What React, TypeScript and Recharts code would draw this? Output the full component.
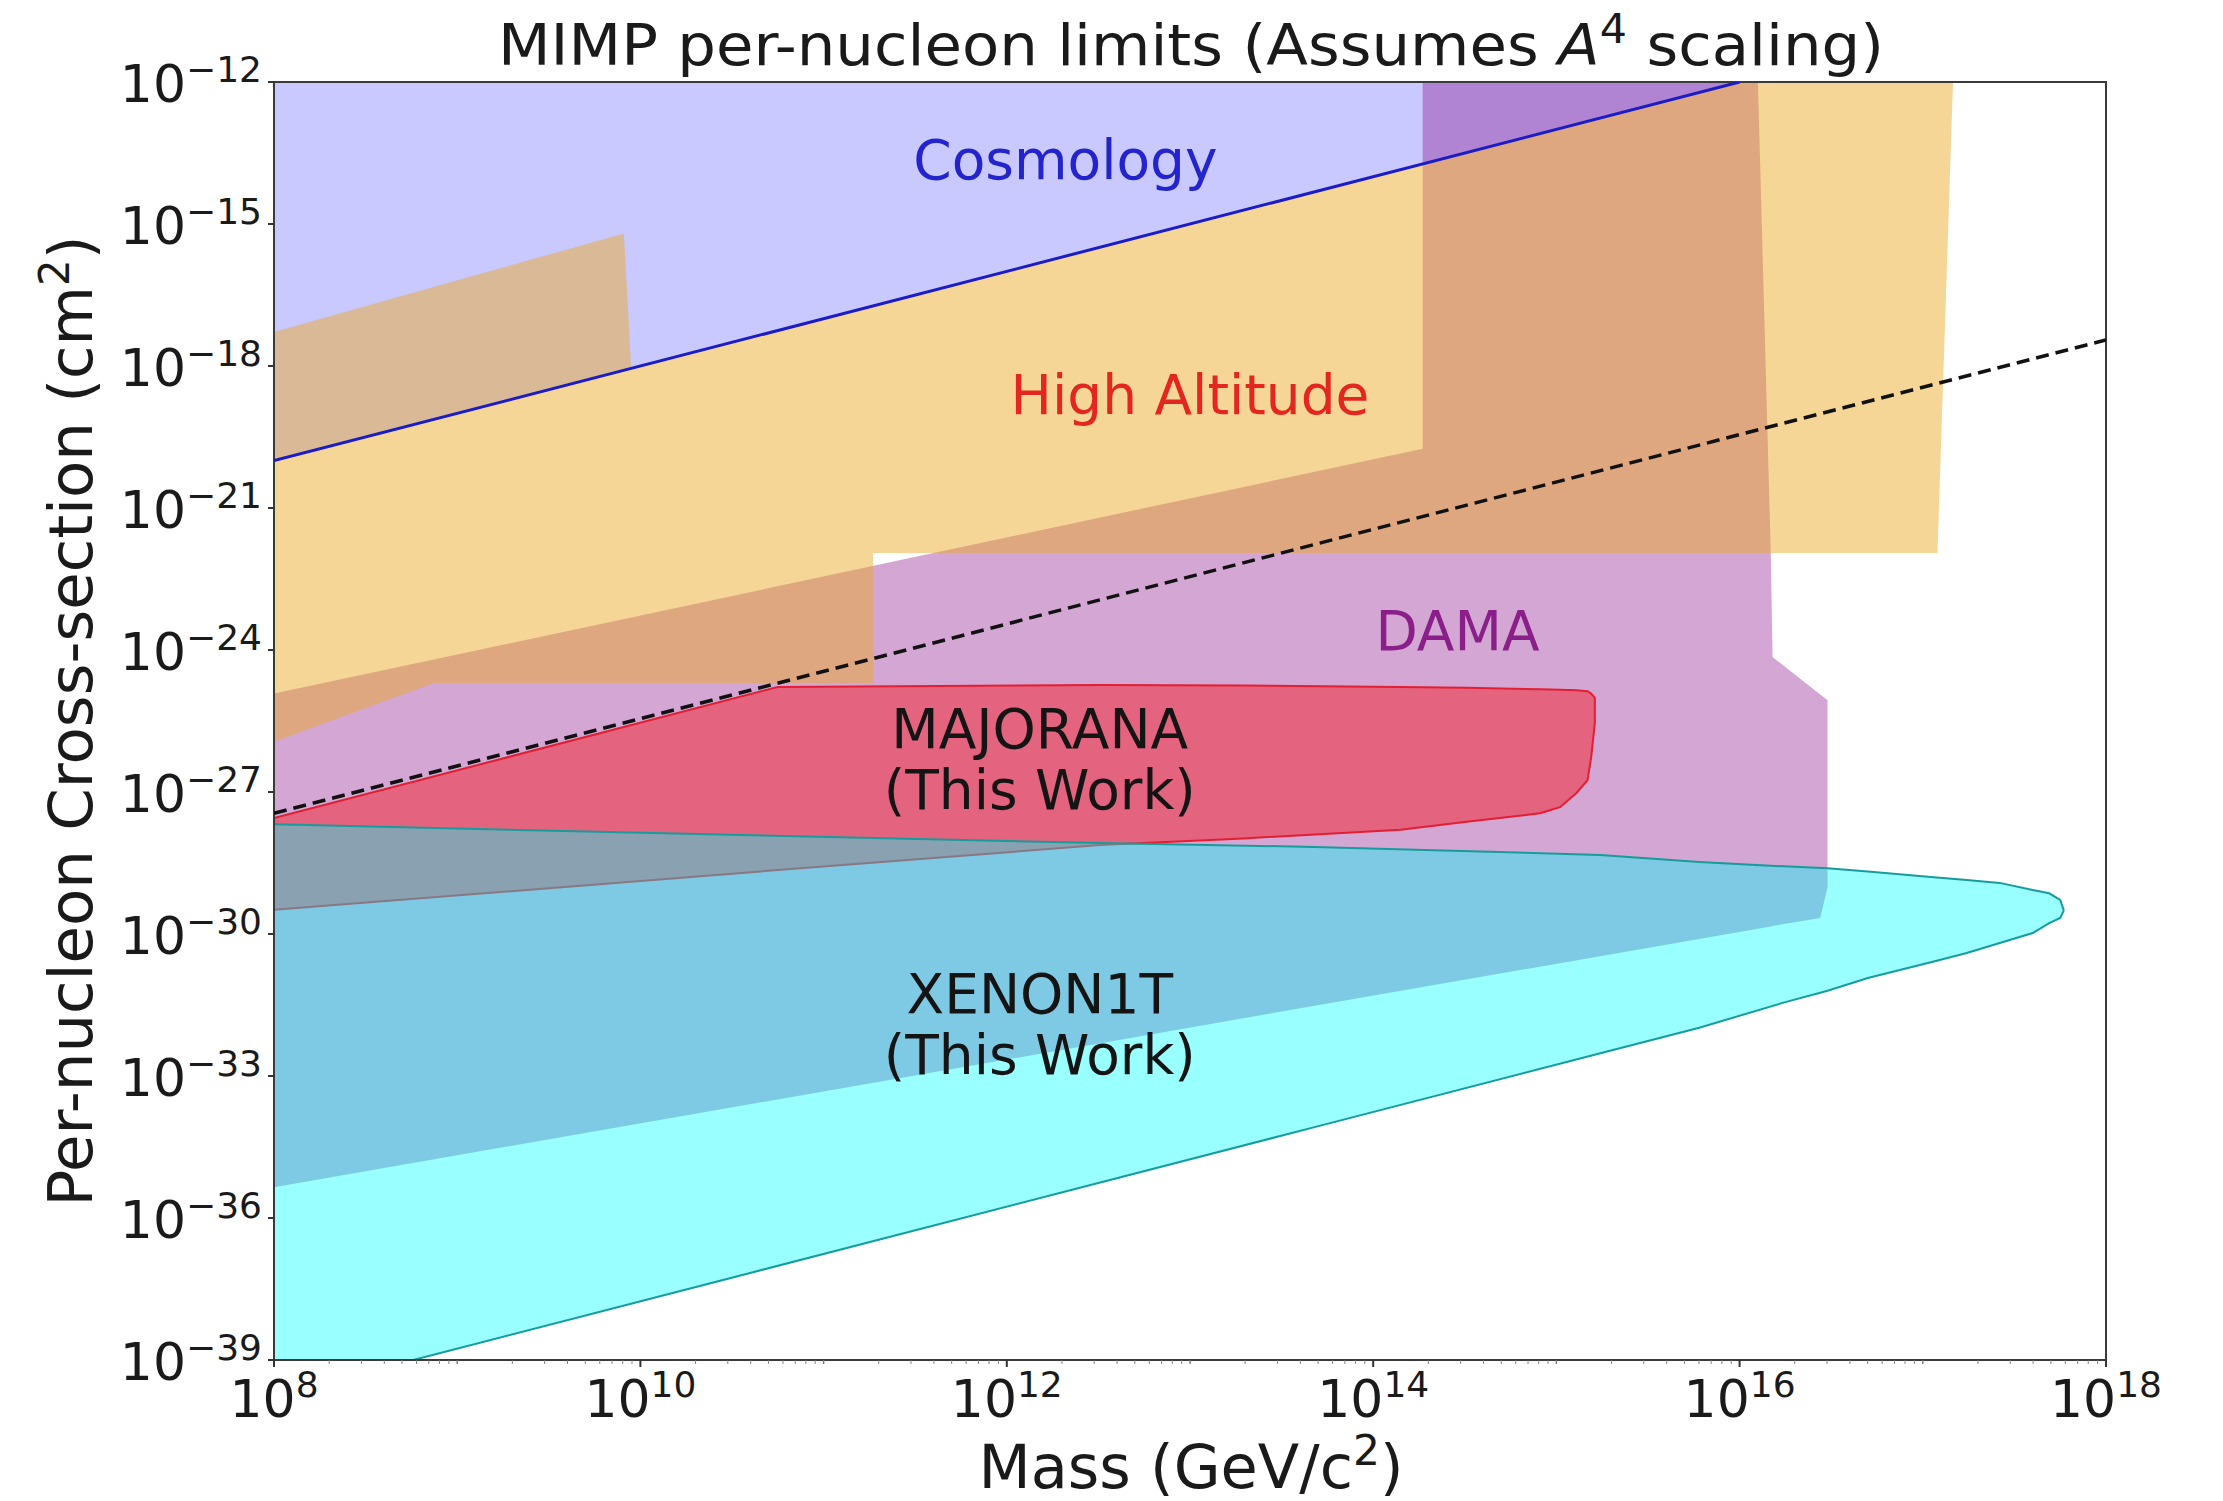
import React from 'react';
import { ComposedChart, Area, Line, XAxis, YAxis, ReferenceArea, ReferenceDot } from 'recharts';

const FONT = '"DejaVu Sans", "Noto Sans", sans-serif';

// All values are log10(mass / GeV c^-2) and log10(cross-section / cm^2)
// Region rows: [log10 M, lower log10 sigma, upper log10 sigma]
const cosmology: number[][] = [
  [8, -20, -12],
  [16, -12, -12],
];

const dama: number[][] = [
  [8, -35.35, -24.92],
  [14.27, -31.12, -19.75],
  [14.27, -31.12, -12],
  [16.1, -29.89, -12],
  [16.17, -29.84, -21.92],
  [16.18, -29.83, -24.15],
  [16.44, -29.66, -24.94],
  [16.48, -29.01, -25.06],
];

const highAltitude: number[][] = [
  [8, -25.94, -17.28],
  [8.87, -24.7, -16.33],
  [9.91, -24.7, -15.2],
  [9.95, -24.7, -18.05],
  [11.27, -24.7, -16.73],
  [11.27, -21.95, -16.73],
  [16.0, -21.95, -12],
  [17.08, -21.95, -12],
  [17.165, -12, -12],
];

const majorana: number[][] = [
  [8, -29.49, -27.55],
  [10.75, -28.65, -24.78],
  [12.51, -28.12, -24.74],
  [13.29, -27.98, -24.75],
  [14.15, -27.8, -24.78],
  [14.51, -27.63, -24.8],
  [14.91, -27.45, -24.83],
  [15.02, -27.32, -24.84],
  [15.11, -27.02, -24.85],
  [15.17, -26.75, -24.87],
  [15.19, -26.26, -24.92],
  [15.21, -25.54, -25.01],
  [15.21, -25.01, -25.01],
];

const xenon1t: number[][] = [
  [8, -39, -27.68],
  [8.76, -39, -27.75],
  [12.51, -35.25, -28.08],
  [13.68, -34.08, -28.16],
  [15.24, -32.52, -28.33],
  [15.78, -31.98, -28.48],
  [16.24, -31.45, -28.57],
  [16.48, -31.2, -28.61],
  [16.7, -30.93, -28.68],
  [17.06, -30.58, -28.8],
  [17.24, -30.4, -28.86],
  [17.42, -30.19, -28.92],
  [17.6, -29.98, -29.07],
  [17.69, -29.77, -29.14],
  [17.75, -29.66, -29.28],
  [17.77, -29.5, -29.5],
];

// Line rows: [log10 M, log10 sigma]
const cosmologyBoundary: number[][] = [
  [8, -20],
  [16, -12],
];
const dashedReference: number[][] = [
  [8, -27.45],
  [18, -17.45],
];

// Tick labels
const xLabelDecades = [8, 10, 12, 14, 16, 18];
const xAllDecades = [8, 9, 10, 11, 12, 13, 14, 15, 16, 17];
const minorMultipliers = [2, 3, 4, 5, 6, 7, 8, 9];
const yLabelDecades = [-12, -15, -18, -21, -24, -27, -30, -33, -36, -39];

// Text annotations: [log10 M, log10 sigma] of first baseline center
const annotations = [
  { x: 12.32, y: -14.05, lines: ['Cosmology'], color: '#2424cc' },
  { x: 13.0, y: -19.01, lines: ['High Altitude'], color: '#e3261f' },
  { x: 14.46, y: -24.0, lines: ['DAMA'], color: '#8a1f8a' },
  { x: 12.18, y: -26.07, lines: ['MAJORANA', '(This Work)'], color: '#141414' },
  { x: 12.18, y: -31.67, lines: ['XENON1T', '(This Work)'], color: '#141414' },
];

const toRange = (rows: number[][]) => rows.map(([x, lo, hi]) => ({ x, range: [lo, hi] }));
const toPoints = (rows: number[][]) => rows.map(([x, y]) => ({ x, y }));

const xTicks: number[] = [18];
xAllDecades.forEach((d) => {
  xTicks.push(d);
  minorMultipliers.forEach((m) => xTicks.push(d + Math.log10(m)));
});
xTicks.sort((a, b) => a - b);

const XTick = (props: any) => {
  const { x, y, payload } = props;
  const v = payload.value;
  const major = xLabelDecades.includes(v);
  const isDecade = Number.isInteger(v);
  return (
    <g>
      <line
        x1={x}
        x2={x}
        y1={y}
        y2={y + (major ? 7 : 4)}
        stroke={major ? '#333' : '#777'}
        strokeWidth={major ? 2 : isDecade ? 1.4 : 0.9}
      />
      {major && (
        <text x={x} y={y + 57} textAnchor="middle" fontFamily={FONT} fontSize={52} fill="#1a1a1a">
          10
          <tspan dy={-20} fontSize={36}>
            {v}
          </tspan>
        </text>
      )}
    </g>
  );
};

const YTick = (props: any) => {
  const { x, y, payload } = props;
  const v = payload.value;
  return (
    <g>
      <line x1={x} x2={x - 6} y1={y} y2={y} stroke="#333" strokeWidth={2} />
      <text x={x - 12} y={y + 20} textAnchor="end" fontFamily={FONT} fontSize={52} fill="#1a1a1a">
        10
        <tspan dy={-20} fontSize={36}>
          {`\u2212${Math.abs(v)}`}
        </tspan>
      </text>
    </g>
  );
};

const AnnoLabel = (props: any) => {
  const { viewBox, lines, color } = props;
  const cx = viewBox.x + (viewBox.width || 0) / 2;
  const cy = viewBox.y + (viewBox.height || 0) / 2;
  return (
    <text x={cx} y={cy} textAnchor="middle" fontFamily={FONT} fontSize={55} fill={color}>
      {lines.map((l: string, i: number) => (
        <tspan key={i} x={cx} dy={i === 0 ? 0 : 61}>
          {l}
        </tspan>
      ))}
    </text>
  );
};

export default function App() {
  return (
    <div style={{ position: 'absolute', left: 0, top: 0, width: 2223, height: 1501, background: '#fff' }}>
      <ComposedChart width={2223} height={1501} margin={{ top: 82, right: 117, bottom: 0, left: 0 }}>
        <XAxis
          type="number"
          dataKey="x"
          domain={[8, 18]}
          ticks={xTicks}
          interval={0}
          tick={<XTick />}
          tickLine={false}
          axisLine={false}
          tickSize={0}
          tickMargin={0}
          height={141}
          allowDataOverflow
        />
        <YAxis
          type="number"
          domain={[-39, -12]}
          ticks={yLabelDecades}
          interval={0}
          tick={<YTick />}
          tickLine={false}
          axisLine={false}
          tickSize={0}
          tickMargin={0}
          width={274}
          allowDataOverflow
        />
        <Area
          data={toRange(cosmology)}
          dataKey="range"
          type="linear"
          stroke="none"
          fill="#0000ff"
          fillOpacity={0.21}
          dot={false}
          activeDot={false}
          isAnimationActive={false}
        />
        <Area
          data={toRange(dama)}
          dataKey="range"
          type="linear"
          stroke="none"
          fill="#800080"
          fillOpacity={0.35}
          dot={false}
          activeDot={false}
          isAnimationActive={false}
        />
        <Area
          data={toRange(highAltitude)}
          dataKey="range"
          type="linear"
          stroke="none"
          fill="#ecaa24"
          fillOpacity={0.48}
          dot={false}
          activeDot={false}
          isAnimationActive={false}
        />
        <Area
          data={toRange(majorana)}
          dataKey="range"
          type="linear"
          stroke="#e41e32"
          strokeWidth={2}
          fill="#ff0000"
          fillOpacity={0.4}
          dot={false}
          activeDot={false}
          isAnimationActive={false}
        />
        <Area
          data={toRange(xenon1t)}
          dataKey="range"
          type="linear"
          stroke="#169c9c"
          strokeWidth={2}
          fill="#00ffff"
          fillOpacity={0.4}
          dot={false}
          activeDot={false}
          isAnimationActive={false}
        />
        <Line
          data={toPoints(cosmologyBoundary)}
          dataKey="y"
          type="linear"
          stroke="#1c1cc4"
          strokeWidth={3}
          dot={false}
          activeDot={false}
          isAnimationActive={false}
        />
        <Line
          data={toPoints(dashedReference)}
          dataKey="y"
          type="linear"
          stroke="#111"
          strokeWidth={3.5}
          strokeDasharray="13 7"
          dot={false}
          activeDot={false}
          isAnimationActive={false}
        />
        <ReferenceArea
          x1={8}
          x2={18}
          y1={-39}
          y2={-12}
          fill="none"
          fillOpacity={0}
          stroke="#3a3a3a"
          strokeWidth={2}
          ifOverflow="visible"
        />
        {annotations.map((a) => (
          <ReferenceDot
            key={a.lines[0]}
            x={a.x}
            y={a.y}
            r={0}
            fill="none"
            stroke="none"
            ifOverflow="visible"
            label={<AnnoLabel lines={a.lines} color={a.color} />}
          />
        ))}
        <text
          x={1191}
          y={65}
          textAnchor="middle"
          fontFamily={FONT}
          fontSize={57}
          fill="#1a1a1a"
          textLength={1386}
          lengthAdjust="spacingAndGlyphs"
        >
          MIMP per-nucleon limits (Assumes <tspan fontStyle="italic">A</tspan>
          <tspan dy={-22} fontSize={40}>4</tspan>
          <tspan dy={22}> scaling)</tspan>
        </text>
        <text
          x={1191}
          y={1488}
          textAnchor="middle"
          fontFamily={FONT}
          fontSize={60}
          fill="#1a1a1a"
          textLength={425}
          lengthAdjust="spacingAndGlyphs"
        >
          Mass (GeV/c<tspan dy={-23} fontSize={42}>2</tspan>
          <tspan dy={23}>)</tspan>
        </text>
        <text
          x={92}
          y={721}
          transform="rotate(-90 92 721)"
          textAnchor="middle"
          fontFamily={FONT}
          fontSize={61}
          fill="#1a1a1a"
          textLength={971}
          lengthAdjust="spacingAndGlyphs"
        >
          Per-nucleon Cross-section (cm<tspan dy={-23} fontSize={42}>2</tspan>
          <tspan dy={23}>)</tspan>
        </text>
      </ComposedChart>
    </div>
  );
}
